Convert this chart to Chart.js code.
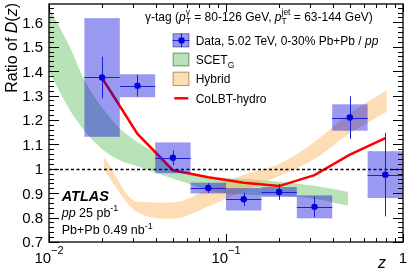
<!DOCTYPE html>
<html><head><meta charset="utf-8">
<script src="https://cdn.jsdelivr.net/npm/chart.js@4"></script>
<style>html,body{margin:0;padding:0;background:#fff;overflow:hidden}canvas{display:block}</style>
</head><body>
<canvas id="c" width="407" height="276"></canvas>
<script>
// ---- data ----
const binLow    = [0.01585,0.02512,0.03981,0.0631,0.1,0.1585,0.2512,0.3981,0.631];
const binHigh   = [0.02512,0.03981,0.0631,0.1,0.1585,0.2512,0.3981,0.631,1.0];
const binCenter = [0.01995,0.03162,0.05012,0.07943,0.1259,0.1995,0.3162,0.5012,0.7943];
const dataRatio = [1.374,1.340,1.045,0.921,0.875,0.905,0.844,1.210,0.976];
const statErr   = [0.085,0.045,0.030,0.020,0.027,0.032,0.043,0.087,0.171];
const sysErr    = [0.243,0.047,0.063,0.022,0.046,0.020,0.047,0.054,0.096];

const colbtZ     = [0.01995,0.03162,0.05012,0.07943,0.1259,0.1995,0.3162,0.5012,0.7943];
const colbtRatio = [1.372,1.143,0.994,0.965,0.943,0.929,0.974,1.058,1.126];

const hybridZ    = [0.0204,0.0316,0.0501,0.0794,0.126,0.2,0.316,0.501,0.81];
const hybridHigh = [1.05,0.865,0.862,0.915,0.975,1.02,1.11,1.228,1.322];
const hybridLow  = [0.995,0.822,0.795,0.845,0.91,0.97,1.04,1.146,1.234];

const scetZ    = [0.01,0.0131,0.0157,0.02,0.0251,0.0316,0.0398,0.0501,0.0631,0.0794,0.1,0.126,0.158,0.2,0.251,0.316,0.398,0.49];
const scetHigh = [1.66,1.50,1.37,1.25,1.165,1.11,1.065,1.0,0.975,0.966,0.962,0.958,0.953,0.947,0.94,0.93,0.918,0.905];
const scetLow  = [1.40,1.241,1.16,1.08,1.035,1.01,0.985,0.96,0.936,0.912,0.90,0.895,0.892,0.889,0.885,0.877,0.863,0.848];

const refLine = 1.0;
const yMajorTicks = [0.7,0.8,0.9,1.0,1.1,1.2,1.3,1.4,1.5,1.6];
const yTickLabels = ['0.7','0.8','0.9','1','1.1','1.2','1.3','1.4','1.5','1.6'];
const yMinorTicks = [0.72,0.74,0.76,0.78,0.82,0.84,0.86,0.88,0.92,0.94,0.96,0.98,1.02,1.04,1.06,1.08,1.12,1.14,1.16,1.18,1.22,1.24,1.26,1.28,1.32,1.34,1.36,1.38,1.42,1.44,1.46,1.48,1.52,1.54,1.56,1.58,1.62,1.64,1.66];
const xMajorTicks = [0.01,0.1,1];
const xTickBase = ['10','10','1'];
const xTickExp  = ['\u22122','\u22121',''];
const xMinorTicks = [0.02,0.03,0.04,0.05,0.06,0.07,0.08,0.09,0.2,0.3,0.4,0.5,0.6,0.7,0.8,0.9];

const FONT = '"Liberation Sans", Arial, Helvetica, sans-serif';
const BOX_COLOR = 'rgba(0,0,220,0.4)';
const GREEN = 'rgba(100,190,100,0.45)';
const ORANGE = 'rgba(250,170,70,0.4)';
const BLUE_LINE = 'rgb(30,30,215)';
const MARKER = 'rgb(0,0,225)';

function pts(xs, ys){ return xs.map((v,i)=>({x:v,y:ys[i]})); }

function drawRich(ctx, x, y, parts, align){
  let w = 0;
  parts.forEach(p=>{ ctx.font = p.f; p.w = ctx.measureText(p.t).width; });
  for (let i=0;i<parts.length;i++){
    const p = parts[i];
    if (p.stack){ w += Math.max(p.w, parts[i+1].w); i++; } else w += p.w;
  }
  let cx = align==='center' ? x - w/2 : (align==='right' ? x - w : x);
  ctx.textAlign = 'left'; ctx.textBaseline = 'alphabetic';
  for (let i=0;i<parts.length;i++){
    const p = parts[i];
    ctx.font = p.f; ctx.fillText(p.t, cx, y + (p.dy||0));
    if (p.stack){
      const q = parts[i+1];
      ctx.font = q.f; ctx.fillText(q.t, cx, y + (q.dy||0));
      cx += Math.max(p.w, q.w); i++;
    } else cx += p.w;
  }
  return w;
}

const deco = {
  id: 'deco',
  beforeDatasetDraw(chart, args){
    if (args.index !== 0) return;
    const {ctx, chartArea:a, scales:{x, y}} = chart;
    ctx.save();
    ctx.beginPath(); ctx.rect(a.left, a.top, a.right-a.left, a.bottom-a.top); ctx.clip();
    const yr = Math.round(y.getPixelForValue(refLine)) + 0.5;
    ctx.strokeStyle = '#000'; ctx.lineWidth = 1.3; ctx.setLineDash([3,2.5]);
    ctx.beginPath(); ctx.moveTo(a.left, yr); ctx.lineTo(a.right, yr); ctx.stroke();
    ctx.setLineDash([]);
    ctx.fillStyle = BOX_COLOR;
    for (let i=0;i<dataRatio.length;i++){
      const x0 = x.getPixelForValue(binLow[i]), x1 = x.getPixelForValue(binHigh[i]);
      const yt = y.getPixelForValue(dataRatio[i]+sysErr[i]), yb = y.getPixelForValue(dataRatio[i]-sysErr[i]);
      ctx.fillRect(x0, yt, x1-x0, yb-yt);
    }
    ctx.strokeStyle = BLUE_LINE; ctx.lineWidth = 1;
    for (let i=0;i<dataRatio.length;i++){
      const x0 = x.getPixelForValue(binLow[i]), x1 = x.getPixelForValue(binHigh[i]);
      const xc = Math.round(x.getPixelForValue(binCenter[i]))+0.5;
      const yc = Math.round(y.getPixelForValue(dataRatio[i]))+0.5;
      ctx.beginPath(); ctx.moveTo(x0, yc); ctx.lineTo(x1, yc); ctx.stroke();
      ctx.beginPath();
      ctx.moveTo(xc, y.getPixelForValue(dataRatio[i]+statErr[i]));
      ctx.lineTo(xc, y.getPixelForValue(dataRatio[i]-statErr[i])); ctx.stroke();
    }
    ctx.restore();
  },
  afterDraw(chart){
    const {ctx, chartArea:a, scales:{x, y}} = chart;
    ctx.save();
    ctx.fillStyle = '#000'; ctx.strokeStyle = '#000';
    ctx.lineWidth = 1;
    const L = a.left, R = a.right, T = a.top, B = a.bottom;
    ctx.beginPath();
    yMajorTicks.forEach(v=>{ const p = Math.round(y.getPixelForValue(v))+0.5;
      ctx.moveTo(L, p); ctx.lineTo(L+10, p); ctx.moveTo(R, p); ctx.lineTo(R-10, p); });
    yMinorTicks.forEach(v=>{ const p = Math.round(y.getPixelForValue(v))+0.5;
      ctx.moveTo(L, p); ctx.lineTo(L+5, p); ctx.moveTo(R, p); ctx.lineTo(R-5, p); });
    xMajorTicks.forEach(v=>{ const p = Math.round(x.getPixelForValue(v))+0.5;
      ctx.moveTo(p, B); ctx.lineTo(p, B-8); ctx.moveTo(p, T); ctx.lineTo(p, T+8); });
    xMinorTicks.forEach(v=>{ const p = Math.round(x.getPixelForValue(v))+0.5;
      ctx.moveTo(p, B); ctx.lineTo(p, B-4); ctx.moveTo(p, T); ctx.lineTo(p, T+4); });
    ctx.stroke();
    ctx.lineWidth = 1.3;
    ctx.strokeRect(L, T, R-L, B-T);

    ctx.font = '15px ' + FONT; ctx.textAlign = 'right'; ctx.textBaseline = 'alphabetic';
    yMajorTicks.forEach((v,i)=>{ ctx.fillText(yTickLabels[i], L-6, y.getPixelForValue(v)+5.4); });
    xMajorTicks.forEach((v,i)=>{
      const p = x.getPixelForValue(v);
      const parts = [{t:xTickBase[i], f:'15px '+FONT}];
      if (xTickExp[i]) parts.push({t:xTickExp[i], f:'11px '+FONT, dy:-9});
      drawRich(ctx, p, B+21, parts, 'center');
    });
    drawRich(ctx, 378, 268, [{t:'z', f:'italic 16px '+FONT}], 'left');
    ctx.save();
    ctx.translate(17, 3); ctx.rotate(-Math.PI/2);
    drawRich(ctx, 0, 0, [
      {t:'Ratio of ', f:'16px '+FONT},{t:'D', f:'italic 16px '+FONT},{t:'(', f:'16px '+FONT},
      {t:'z', f:'italic 16px '+FONT},{t:')', f:'16px '+FONT}], 'right');
    ctx.restore();

    const f12 = '12px '+FONT, i12 = 'italic 12px '+FONT, s8 = '8.5px '+FONT;
    drawRich(ctx, 145, 20.5, [
      {t:'\u03b3-tag (', f:f12},{t:'p', f:i12},
      {t:'\u03b3', f:s8, dy:-6, stack:true},{t:'T', f:s8, dy:3.5},
      {t:' = 80-126 GeV, ', f:f12},{t:'p', f:i12},
      {t:'jet', f:s8, dy:-6, stack:true},{t:'T', f:s8, dy:3.5},
      {t:' = 63-144 GeV)', f:f12}], 'left');

    const lx0 = 172.7, lx1 = 189.3, tx = 195.7;
    ctx.fillStyle = BOX_COLOR; ctx.fillRect(lx0, 33.3, lx1-lx0, 14);
    ctx.strokeStyle = BLUE_LINE; ctx.lineWidth = 1;
    ctx.beginPath(); ctx.moveTo(lx0, 40.5); ctx.lineTo(lx1, 40.5); ctx.moveTo(181.5, 33.3); ctx.lineTo(181.5, 47.3); ctx.stroke();
    ctx.strokeStyle = 'rgba(0,0,120,0.35)'; ctx.strokeRect(lx0+0.5, 33.8, lx1-lx0-1, 13);
    ctx.fillStyle = MARKER; ctx.beginPath(); ctx.arc(181.5, 40.5, 3.2, 0, Math.PI*2); ctx.fill();
    ctx.fillStyle = GREEN; ctx.fillRect(lx0, 52.7, lx1-lx0, 13.6);
    ctx.strokeStyle = 'rgba(40,80,40,0.5)'; ctx.strokeRect(lx0+0.5, 53.2, lx1-lx0-1, 12.6);
    ctx.fillStyle = ORANGE; ctx.fillRect(lx0, 71.7, lx1-lx0, 14.3);
    ctx.strokeStyle = 'rgba(110,80,30,0.5)'; ctx.strokeRect(lx0+0.5, 72.2, lx1-lx0-1, 13.3);
    ctx.strokeStyle = '#ff0000'; ctx.lineWidth = 2.5;
    ctx.beginPath(); ctx.moveTo(174.3, 98.3); ctx.lineTo(188.3, 98.3); ctx.stroke();

    ctx.fillStyle = '#000';
    drawRich(ctx, tx, 44.5, [{t:'Data, 5.02 TeV, 0-30% Pb+Pb / ', f:f12},{t:'pp', f:i12}], 'left');
    drawRich(ctx, tx, 64, [{t:'SCET', f:f12},{t:'G', f:s8, dy:3.5}], 'left');
    drawRich(ctx, tx, 83.3, [{t:'Hybrid', f:f12}], 'left');
    drawRich(ctx, tx, 102.5, [{t:'CoLBT-hydro', f:f12}], 'left');

    drawRich(ctx, 61.7, 201.3, [{t:'ATLAS', f:'italic bold 14.5px '+FONT}], 'left');
    const f125 = '12.5px '+FONT, s9 = '9px '+FONT;
    drawRich(ctx, 61.7, 216.5, [{t:'pp', f:'italic 12.5px '+FONT},{t:' 25 pb', f:f125},{t:'-1', f:s9, dy:-5.5}], 'left');
    drawRich(ctx, 61.7, 234, [{t:'Pb+Pb 0.49 nb', f:f125},{t:'-1', f:s9, dy:-5.5}], 'left');
    ctx.restore();
  }
};

new Chart(document.getElementById('c').getContext('2d'), {
  type: 'line',
  data: { datasets: [
    { label:'Data', data: pts(binCenter, dataRatio), showLine:false, pointRadius:3.2,
      pointBackgroundColor: MARKER, pointBorderColor: MARKER, pointBorderWidth:0, order:0 },
    { label:'CoLBT-hydro', data: pts(colbtZ, colbtRatio), borderColor:'#ff0000', borderWidth:2.5,
      pointRadius:0, tension:0, fill:false, order:1 },
    { label:'Hybrid', data: pts(hybridZ, hybridHigh), borderWidth:0, borderColor:'rgba(0,0,0,0)',
      pointRadius:0, fill:'+1', backgroundColor: ORANGE, cubicInterpolationMode:'monotone', order:2 },
    { label:'Hybrid low', data: pts(hybridZ, hybridLow), borderWidth:0, borderColor:'rgba(0,0,0,0)',
      pointRadius:0, fill:false, cubicInterpolationMode:'monotone', order:2 },
    { label:'SCET_G', data: pts(scetZ, scetHigh), borderWidth:0, borderColor:'rgba(0,0,0,0)',
      pointRadius:0, fill:'+1', backgroundColor: GREEN, cubicInterpolationMode:'monotone', order:3 },
    { label:'SCET_G low', data: pts(scetZ, scetLow), borderWidth:0, borderColor:'rgba(0,0,0,0)',
      pointRadius:0, fill:false, cubicInterpolationMode:'monotone', order:3 }
  ]},
  options: {
    responsive:false, animation:false, devicePixelRatio:1, events:[],
    layout:{ padding:{ left:49, right:4, top:3, bottom:34 } },
    scales:{
      x:{ type:'logarithmic', min:0.01, max:1, display:false },
      y:{ type:'linear', min:0.7, max:1.675, display:false }
    },
    plugins:{ legend:{display:false}, tooltip:{enabled:false} }
  },
  plugins:[deco]
});
</script>
</body></html>
